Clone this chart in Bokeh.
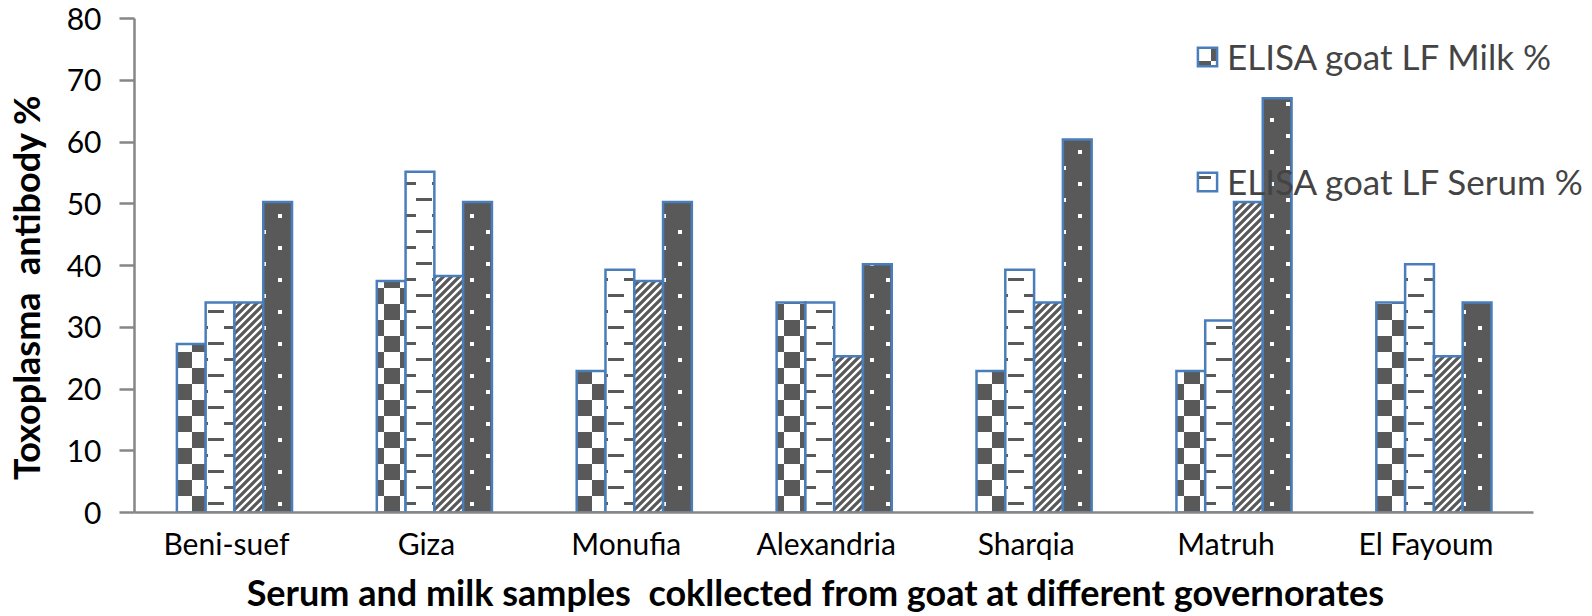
import base64
from bokeh.plotting import figure
from bokeh.models import (Range1d, Legend, LegendItem, ImageURLTexture,
                          ColumnDataSource, FixedTicker)
from bokeh.core.properties import value
from bokeh.embed import file_html
from bokeh.resources import INLINE

# ---------------- data ----------------
governorates = ["Beni-suef", "Giza", "Monufia", "Alexandria", "Sharqia", "Matruh", "El Fayoum"]
milk_pct = [27.3, 37.5, 22.9, 34.0, 22.9, 22.9, 34.0]      # checker bars  (legend: Milk)
serum_pct = [34.0, 55.2, 39.3, 34.0, 39.3, 31.1, 40.2]     # dashed bars   (legend: Serum)
third_pct = [34.0, 38.3, 37.5, 25.3, 34.0, 50.3, 25.3]     # diagonal bars
fourth_pct = [50.3, 50.3, 50.3, 40.2, 60.4, 67.1, 34.0]    # dark dotted bars
y_ticks = [0, 10, 20, 30, 40, 50, 60, 70, 80]
legend_labels = ["ELISA goat LF Milk %", "ELISA goat LF Serum %"]
NBSP = "\u00a0"
x_title = "Serum and milk samples" + NBSP + " cokllected from goat at different governorates"
y_title = "Toxoplasma" + NBSP + " antibody %"

DARK = "#595959"
EDGE = "#4A7EBB"
AXIS = "#868686"

W, H = 1592, 616
LEFT, TOP, RIGHT_AXIS_END, BOTTOM = 125, 18, 1533, 524   # frame geometry (px)
LABEL_SHIFT = -0.04   # category labels sit slightly left of the bar groups


def svg_texture(svg):
    url = "data:image/svg+xml;base64," + base64.b64encode(svg.encode()).decode()
    return ImageURLTexture(url=url, repetition="repeat")


checker_tex = svg_texture(
    "<svg xmlns='http://www.w3.org/2000/svg' width='32' height='32'>"
    f"<rect x='16' y='0' width='16' height='16' fill='{DARK}'/>"
    f"<rect x='0' y='16' width='16' height='16' fill='{DARK}'/></svg>")
dash_tex = svg_texture(
    "<svg xmlns='http://www.w3.org/2000/svg' width='32' height='32'>"
    f"<rect x='0' y='6' width='16' height='3' fill='{DARK}'/>"
    f"<rect x='16' y='22' width='16' height='3' fill='{DARK}'/></svg>")
diag_tex = svg_texture(
    "<svg xmlns='http://www.w3.org/2000/svg' width='8' height='8'>"
    f"<path d='M-2,10 L10,-2 M-2,2 L2,-2 M6,10 L10,6' stroke='{DARK}' stroke-width='3.3'/></svg>")
dot_tex = svg_texture(
    "<svg xmlns='http://www.w3.org/2000/svg' width='32' height='32'>"
    "<rect x='6' y='6' width='4' height='4' fill='white'/>"
    "<rect x='22' y='22' width='4' height='4' fill='white'/></svg>")

n = len(governorates)
x_centers = [i + 0.5 for i in range(n)]
BW = 0.144
src = ColumnDataSource(dict(
    x1=[c - 1.5 * BW for c in x_centers], x2=[c - 0.5 * BW for c in x_centers],
    x3=[c + 0.5 * BW for c in x_centers], x4=[c + 1.5 * BW for c in x_centers],
    milk=milk_pct, serum=serum_pct, third=third_pct, fourth=fourth_pct))

# frame spans to the right canvas edge so the legend is not clipped;
# the x axis line itself stops at n (bounds)
x_end = n * (W - LEFT) / (RIGHT_AXIS_END - LEFT)
p = figure(x_range=Range1d(0, x_end), y_range=Range1d(0, 80), width=W, height=H,
           output_backend="svg", toolbar_location=None,
           min_border_left=LEFT, min_border_right=0, min_border_top=TOP,
           min_border_bottom=H - BOTTOM)

common = dict(source=src, width=BW, line_color=EDGE, line_width=2.5, line_join="miter")
r1 = p.vbar(x="x1", top="milk", fill_color="white",
            hatch_pattern=value("checker"), hatch_extra={"checker": checker_tex}, **common)
r2 = p.vbar(x="x2", top="serum", fill_color="white",
            hatch_pattern=value("dashes"), hatch_extra={"dashes": dash_tex}, **common)
r3 = p.vbar(x="x3", top="third", fill_color="white",
            hatch_pattern=value("diag"), hatch_extra={"diag": diag_tex}, **common)
r4 = p.vbar(x="x4", top="fourth", fill_color=DARK,
            hatch_pattern=value("dots"), hatch_extra={"dots": dot_tex}, **common)

# axes
p.xgrid.grid_line_color = None
p.ygrid.grid_line_color = None
p.outline_line_color = None
label_pos = [c + LABEL_SHIFT for c in x_centers]
p.xaxis.ticker = FixedTicker(ticks=label_pos)
p.xaxis.major_label_overrides = {c: g for c, g in zip(label_pos, governorates)}
p.xaxis.bounds = (0, n)
p.yaxis.ticker = FixedTicker(ticks=y_ticks)
for ax in (p.xaxis[0], p.yaxis[0]):
    ax.axis_line_color = AXIS
    ax.axis_line_width = 2.5
    ax.minor_tick_line_color = None
    ax.major_label_text_font = "Lato"
    ax.major_label_text_font_size = "30px"
    ax.major_label_text_color = "black"
    ax.axis_label_text_font = "Lato"
    ax.axis_label_text_font_style = "bold"
    ax.axis_label_text_color = "black"
p.xaxis.major_tick_line_color = None
p.xaxis.major_label_standoff = 6
p.yaxis.major_tick_line_color = AXIS
p.yaxis.major_tick_line_width = 2.5
p.yaxis.major_tick_out = 15
p.yaxis.major_tick_in = 0
p.yaxis.major_label_standoff = 18

# axis titles (trailing no-break spaces shift the centred title like the reference)
p.xaxis.axis_label = x_title + NBSP * 11
p.xaxis.axis_label_text_font_size = "36px"
p.xaxis.axis_label_standoff = 6
p.yaxis.axis_label = y_title + NBSP * 5
p.yaxis.axis_label_text_font_size = "36px"
p.yaxis.axis_label_standoff = 16

legend = Legend(items=[LegendItem(label=legend_labels[0], renderers=[r1]),
                       LegendItem(label=legend_labels[1], renderers=[r2])],
                location=(1061, 309), orientation="vertical",
                label_text_font="Lato", label_text_font_size="35px",
                glyph_width=24, glyph_height=23, label_standoff=8, label_height=44,
                padding=0, margin=0, spacing=81,
                border_line_color=None, background_fill_alpha=0)
p.add_layout(legend)

open("out.html", "w").write(file_html(p, INLINE))
